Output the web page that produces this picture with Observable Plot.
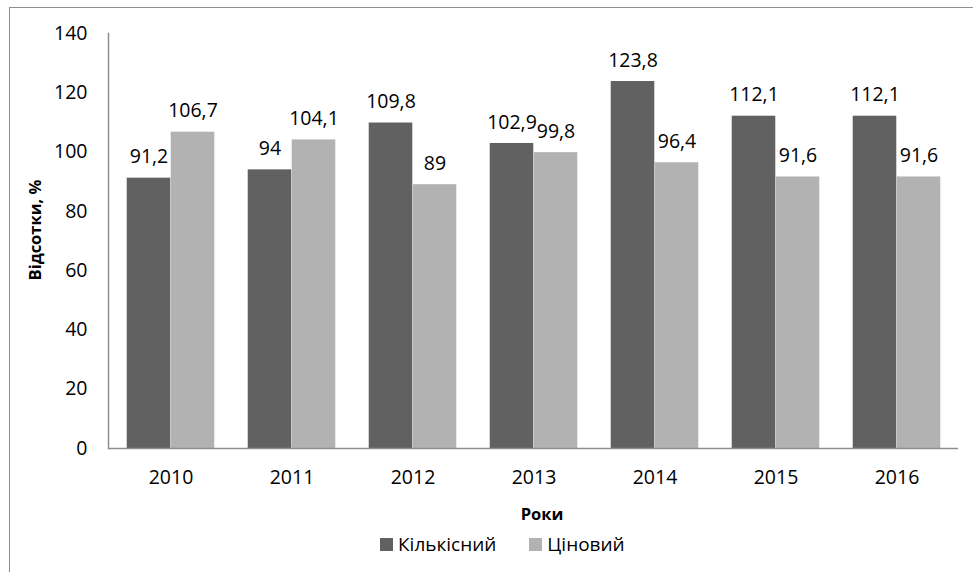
<!DOCTYPE html>
<html><head><meta charset="utf-8">
<script src="https://cdn.jsdelivr.net/npm/d3@7"></script>
<script src="https://cdn.jsdelivr.net/npm/@observablehq/plot@0.6"></script>
<style>
body{margin:0;background:#fff;font-family:"Open Sans",sans-serif;color:#000;}
#wrap{position:relative;width:973px;height:572px;overflow:hidden;background:#fff;}
#border{position:absolute;left:9px;top:7px;width:1000px;height:600px;border:1.5px solid #8e8e8e;box-sizing:border-box;}
#chart{position:absolute;left:0;top:0;}
#ytitle{position:absolute;left:34px;top:230px;transform:translate(-50%,-50%) rotate(-90deg);font-weight:bold;font-size:16.5px;white-space:nowrap;}
#xtitle{position:absolute;left:542px;top:513px;transform:translate(-50%,-50%);font-weight:bold;font-size:16.5px;}
#legend{position:absolute;left:380px;top:531px;display:flex;align-items:center;font-size:19px;white-space:nowrap;}
.sw{display:inline-block;width:13px;height:13px;margin-right:5px;}
.item{display:flex;align-items:center;margin-right:33px;}
</style></head>
<body>
<div id="wrap">
  <div id="border"></div>
  <div id="chart"></div>
  <div id="ytitle">Відсотки, %</div>
  <div id="xtitle">Роки</div>
  <div id="legend"></div>
</div>
<script>
const years = ["2010","2011","2012","2013","2014","2015","2016"];
const seriesNames = ["Кількісний","Ціновий"];
const kilkisnyi = [91.2, 94, 109.8, 102.9, 123.8, 112.1, 112.1];
const tsinovyi = [106.7, 104.1, 89, 99.8, 96.4, 91.6, 91.6];
const yTicks = [0,20,40,60,80,100,120,140];
const colors = ["#616161","#b2b2b2"];

const W = 973, ML = 108, MR = 15;
const bw = (W - ML - MR) / years.length;
const barW = 44;

const dark = years.map((y,i)=>({year:y, series:seriesNames[0], value:kilkisnyi[i]}));
const light = years.map((y,i)=>({year:y, series:seriesNames[1], value:tsinovyi[i]}));
const fmt = v => String(v).replace(".", ",");

const plot = Plot.plot({
  width: W, height: 530,
  marginLeft: ML, marginRight: MR, marginTop: 33, marginBottom: 82,
  style:{fontSize:"19.5px", fontFamily:"Open Sans", color:"#000", background:"transparent"},
  x:{domain: years, padding:0, axis:null},
  y:{domain:[0,140], axis:null},
  color:{domain: seriesNames, range: colors},
  marks:[
    Plot.barY(dark, {x:"year", y:"value", fill:"series", insetLeft: bw/2 - barW, insetRight: bw/2}),
    Plot.barY(light, {x:"year", y:"value", fill:"series", insetLeft: bw/2, insetRight: bw/2 - barW}),
    Plot.text(dark, {x:"year", y:"value", text: d=>fmt(d.value), dx:-barW/2, dy:-21, fill:"#000"}),
    Plot.text(light, {x:"year", y:"value", text: d=>fmt(d.value), dx:barW/2, dy:-21, fill:"#000"}),
    Plot.axisY({ticks: yTicks, tickSize:0, tickPadding:21, label:null, anchor:"left", tickFormat: d=>String(d)}),
    Plot.axisX({tickSize:0, tickPadding:22, label:null, anchor:"bottom"}),
    Plot.frame({anchor:"left", stroke:"#8e8e8e", strokeWidth:1.5}),
    Plot.ruleY([0], {stroke:"#8e8e8e", strokeWidth:1.5})
  ]
});
document.getElementById("chart").appendChild(plot);

const leg = document.getElementById("legend");
seriesNames.forEach((s,i)=>{
  const it = document.createElement("div"); it.className="item";
  const sw = document.createElement("span"); sw.className="sw"; sw.style.background=colors[i];
  const t = document.createElement("span"); t.textContent = s;
  it.appendChild(sw); it.appendChild(t); leg.appendChild(it);
});
</script>
</body></html>
